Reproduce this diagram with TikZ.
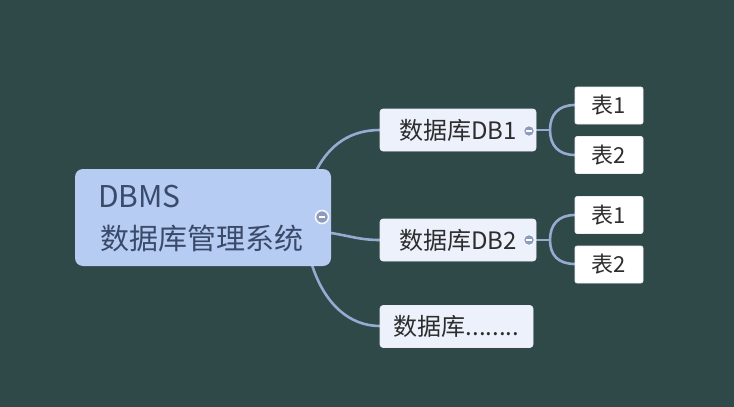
\documentclass[tikz,border=0pt]{standalone}
\usepackage{fontspec}
\setmainfont{Noto Sans CJK SC}
\definecolor{bgc}{RGB}{47,72,72}
\definecolor{mainfill}{RGB}{183,204,242}
\definecolor{maintext}{RGB}{58,74,106}
\definecolor{subfill}{RGB}{236,241,252}
\definecolor{linec}{RGB}{150,170,210}
\definecolor{subtext}{RGB}{45,45,45}
\definecolor{knobc}{RGB}{140,155,190}
\begin{document}
\begin{tikzpicture}[x=1pt,y=-1pt,
  mainbox/.style={draw=none,fill=mainfill,rounded corners=8pt,minimum width=256pt,minimum height=97pt,inner sep=0pt},
  dbbox/.style={fill=subfill,draw=white!80!linec,line width=0.6pt,rounded corners=3pt,minimum width=156pt,minimum height=42pt,inner sep=0pt,text=subtext,font=\fontsize{24}{28}\selectfont},
  tbox/.style={fill=white,draw=white!80!linec,line width=0.6pt,rounded corners=2pt,minimum width=68pt,minimum height=37pt,inner sep=0pt,text=subtext,font=\fontsize{22}{26}\selectfont},
  conn/.style={draw=linec,line width=2.6pt,line cap=round},
  knob/.style={circle,fill=knobc,draw=white!90!linec,line width=1.6pt,minimum size=12pt,inner sep=0pt,
    path picture={\draw[white,line width=1.3pt] ([xshift=-2.6pt]path picture bounding box.center) -- ([xshift=2.6pt]path picture bounding box.center);}}]
\useasboundingbox (0,0) rectangle (734,407);
\fill[bgc] (0,0) rectangle (734,407);

% connectors
\coordinate (m1) at (317,169);
\coordinate (m2) at (331,233);
\coordinate (m3) at (312,265);
\draw[conn] (m1) .. controls (330,145) and (350,130) .. (380,130);
\draw[conn] (m2) .. controls (350,236) and (360,240) .. (380,240);
\draw[conn] (m3) .. controls (325,305) and (350,326) .. (380,326);

\coordinate (b1) at (550,130);
\coordinate (b2) at (550,240);
\draw[conn] (536,130) -- (b1);
\draw[conn] (575,105) .. controls (558,105) and (550,115) .. (b1) .. controls (550,145) and (558,155) .. (575,155);
\draw[conn] (536,240) -- (b2);
\draw[conn] (575,215) .. controls (558,215) and (550,225) .. (b2) .. controls (550,255) and (558,264) .. (575,264);

% main node
\node[mainbox] (main) at (203,217.5) {};
\node[anchor=west,text=maintext,font=\fontsize{30}{34}\selectfont,inner sep=0pt] (t1) at (98,197) {DBMS};
\node[anchor=west,text=maintext,font=\fontsize{29}{32}\selectfont,inner sep=0pt] (t2) at (100,238) {数据库管理系统};
\node[knob,minimum size=13pt] (k0) at (322,217) {};

% db nodes
\node[dbbox] (db1) at (458,130) {数据库DB1\hspace{6pt}};
\node[dbbox] (db2) at (458,240) {数据库DB2\hspace{6pt}};
\node[dbbox,minimum width=153pt] (db3) at (456.5,326.5) {数据库........\hspace{6pt}};
\node[knob,minimum size=11pt,line width=1.2pt] (k1) at (529,131) {};
\node[knob,minimum size=11pt,line width=1.2pt] (k2) at (529,240) {};

% table nodes
\node[tbox] (t11) at (609,105.5) {表1};
\node[tbox] (t12) at (609,155) {表2};
\node[tbox] (t21) at (609,215) {表1};
\node[tbox] (t22) at (609,264.5) {表2};
\end{tikzpicture}
\end{document}
